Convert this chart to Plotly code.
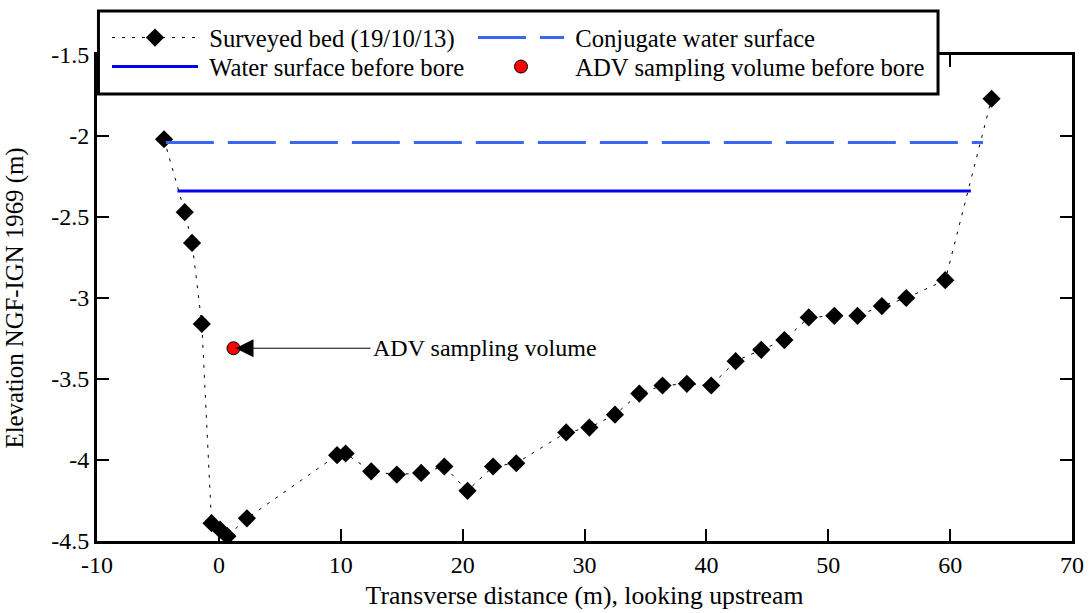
import plotly.graph_objects as go

# Surveyed bed (19/10/13)
bed_x = [-4.5, -2.8, -2.2, -1.4, -0.6, 0.1, 0.7, 2.3, 9.7, 10.4, 12.5, 14.6, 16.6, 18.5,
         20.4, 22.5, 24.4, 28.5, 30.4, 32.5, 34.5, 36.4, 38.4, 40.4, 42.4, 44.5, 46.4,
         48.4, 50.5, 52.4, 54.4, 56.4, 59.6, 63.4]
bed_y = [-2.02, -2.47, -2.66, -3.16, -4.39, -4.43, -4.47, -4.36, -3.97, -3.96, -4.07, -4.09,
         -4.08, -4.04, -4.19, -4.04, -4.02, -3.83, -3.80, -3.72, -3.59, -3.54, -3.53, -3.54,
         -3.39, -3.32, -3.26, -3.12, -3.11, -3.11, -3.05, -3.00, -2.89, -1.77]

# Conjugate water surface
conj_x = [-4.35, 62.7]
conj_y = [-2.04, -2.04]

# Water surface before bore
ws_x = [-3.4, 61.7]
ws_y = [-2.34, -2.34]

# ADV sampling volume before bore
adv_x = [1.2]
adv_y = [-3.31]

x_ticks = [-10, 0, 10, 20, 30, 40, 50, 60, 70]
x_ticktext = ["-10", "0", "10", "20", "30", "40", "50", "60", "70"]
y_ticks = [-4.5, -4, -3.5, -3, -2.5, -2, -1.5]
y_ticktext = ["-4.5", "-4", "-3.5", "-3", "-2.5", "-2", "-1.5"]

FONT = "Liberation Serif, Times New Roman, serif"
PAD = "\u00a0"

fig = go.Figure()
fig.add_trace(go.Scatter(
    x=bed_x, y=bed_y, mode="lines+markers", name=PAD + "Surveyed bed (19/10/13)",
    line=dict(color="black", width=1, dash="3px,7px"),
    marker=dict(symbol="diamond", size=14, color="black"),
    legend="legend",
))
fig.add_trace(go.Scatter(
    x=conj_x, y=conj_y, mode="lines", name=PAD + "Conjugate water surface",
    line=dict(color="#3a66f2", width=3, dash="48px,14px"),
    legend="legend2",
))
fig.add_trace(go.Scatter(
    x=ws_x, y=ws_y, mode="lines", name=PAD + "Water surface before bore",
    line=dict(color="#0000ee", width=3),
    legend="legend3",
))
fig.add_trace(go.Scatter(
    x=adv_x, y=adv_y, mode="markers", name=PAD + "ADV sampling volume before bore",
    marker=dict(symbol="circle", size=13, color="#ff0000", line=dict(color="black", width=1)),
    legend="legend4",
))

fig.add_annotation(
    x=adv_x[0], y=adv_y[0], text="ADV sampling volume", showarrow=True,
    ax=137, ay=0, xanchor="left", yanchor="middle",
    arrowhead=2, arrowsize=3.6, arrowwidth=1, arrowcolor="black", standoff=2,
    font=dict(family=FONT, size=24, color="black"),
)

axis_common = dict(
    showline=True, linecolor="black", linewidth=3, mirror="ticks",
    ticks="inside", ticklen=12, tickwidth=2, tickcolor="black",
    showgrid=False, zeroline=False, automargin=False,
    tickfont=dict(family=FONT, size=24, color="black"),
)

fig.update_xaxes(
    range=[-10, 70], tickvals=x_ticks, ticktext=x_ticktext,
    title=dict(text="Transverse distance (m), looking upstream",
               font=dict(family=FONT, size=25.7, color="black"), standoff=10),
    **axis_common,
)
fig.update_yaxes(
    range=[-4.5, -1.5], tickvals=y_ticks, ticktext=y_ticktext,
    title=dict(text="Elevation NGF-IGN 1969 (m)",
               font=dict(family=FONT, size=24.8, color="black"), standoff=21),
    **axis_common,
)

# legend frame (white box with thick black border, drawn over the plot frame)
fig.add_shape(type="rect", xref="paper", yref="paper",
              x0=0.0015, x1=0.8626, y0=0.9198, y1=1.0905,
              fillcolor="white", line=dict(color="black", width=3), layer="above")


def leg(xp, yp):
    return dict(
        orientation="v", x=xp, y=yp, xanchor="left", yanchor="middle",
        itemwidth=86, bgcolor="rgba(0,0,0,0)", borderwidth=0,
        font=dict(family=FONT, size=24.7, color="black"),
    )


col1 = (112 - 5 - 97) / 975
col2 = (478 - 5 - 97) / 975
row1 = (541 - 38) / 486
row2 = (541 - 67) / 486

fig.update_layout(
    width=1089, height=613,
    margin=dict(l=97, r=17, t=55, b=72),
    plot_bgcolor="white", paper_bgcolor="white",
    font=dict(family=FONT, size=24, color="black"),
    legend=leg(col1, row1),
    legend2=leg(col2, row1),
    legend3=leg(col1, row2),
    legend4=leg(col2, row2),
    showlegend=True,
)

fig.write_html("out.html")
